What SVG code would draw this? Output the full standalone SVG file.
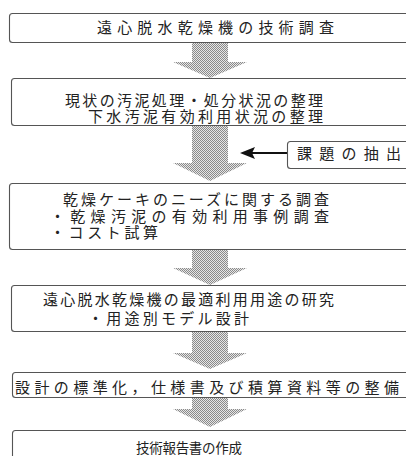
<svg xmlns="http://www.w3.org/2000/svg" width="406" height="456" viewBox="0 0 406 456">
<style>
.box{fill:#fff;stroke:#555;stroke-width:1.1}
.t{font-family:"Noto Sans CJK JP","Noto Sans CJK SC",sans-serif;font-size:15px;fill:#222}
.s{font-size:13.5px}
.arr{fill:url(#st)}
</style>
<defs>
<pattern id="st" width="2" height="2" patternUnits="userSpaceOnUse">
<rect width="2" height="2" fill="#e6e6e6"/>
<rect x="0" y="0" width="1" height="1" fill="#8a8a8a"/>
<rect x="1" y="1" width="1" height="1" fill="#8a8a8a"/>
</pattern>
</defs>
<g id="connectors">
<path class="arr" d="M192,42 H228 V62 H247 L210,78 L173,62 H192 Z"/>
<path class="arr" d="M192,126 H228 V163 H247 L210,181 L173,163 H192 Z"/>
<path class="arr" d="M192,250 H228 V268 H247 L210,285 L173,268 H192 Z"/>
<path class="arr" d="M192,332 H228 V353 H247 L210,369 L173,353 H192 Z"/>
<path class="arr" d="M192,398 H228 V409 H247 L210,427 L173,409 H192 Z"/>
<line x1="287" y1="153" x2="252" y2="153" stroke="#111" stroke-width="2"/>
<path d="M240,153 L255,147 L252,153 L255,159 Z" fill="#111"/>
</g>
<g id="n1">
<rect class="box" x="9.5" y="13.5" width="410" height="29" rx="3"/>
<text class="t" x="97" y="33" textLength="237" lengthAdjust="spacing">遠心脱水乾燥機の技術調査</text>
</g>
<g id="n2">
<rect class="box" x="11.5" y="78.5" width="410" height="47" rx="3"/>
<text class="t" x="65" y="106" textLength="258" lengthAdjust="spacing">現状の汚泥処理・処分状況の整理</text>
<text class="t" x="88" y="122" textLength="235" lengthAdjust="spacing">下水汚泥有効利用状況の整理</text>
</g>
<g id="n3">
<rect class="box" x="287.5" y="141.5" width="130" height="27" rx="3"/>
<text class="t" x="297" y="159" textLength="104" lengthAdjust="spacing">課題の抽出</text>
</g>
<g id="n4">
<rect class="box" x="9.5" y="183.5" width="410" height="66" rx="3"/>
<text class="t" x="63" y="205" textLength="266" lengthAdjust="spacing">乾燥ケーキのニーズに関する調査</text>
<text class="t" x="50" y="222" textLength="279" lengthAdjust="spacing">・乾燥汚泥の有効利用事例調査</text>
<text class="t" x="50" y="238" textLength="108" lengthAdjust="spacing">・コスト試算</text>
</g>
<g id="n5">
<rect class="box" x="11.5" y="285.5" width="410" height="46" rx="3"/>
<text class="t" x="43" y="305" textLength="291" lengthAdjust="spacing">遠心脱水乾燥機の最適利用用途の研究</text>
<text class="t" x="88" y="324" textLength="161" lengthAdjust="spacing">・用途別モデル設計</text>
</g>
<g id="n6">
<rect class="box" x="12.5" y="372.5" width="410" height="25" rx="3"/>
<text class="t" x="15" y="393" textLength="384" lengthAdjust="spacing">設計の標準化，仕様書及び積算資料等の整備</text>
</g>
<g id="n7">
<rect class="box" x="12.5" y="430.5" width="410" height="40" rx="3"/>
<text class="t s" x="136" y="453" textLength="106" lengthAdjust="spacing">技術報告書の作成</text>
</g>
</svg>
